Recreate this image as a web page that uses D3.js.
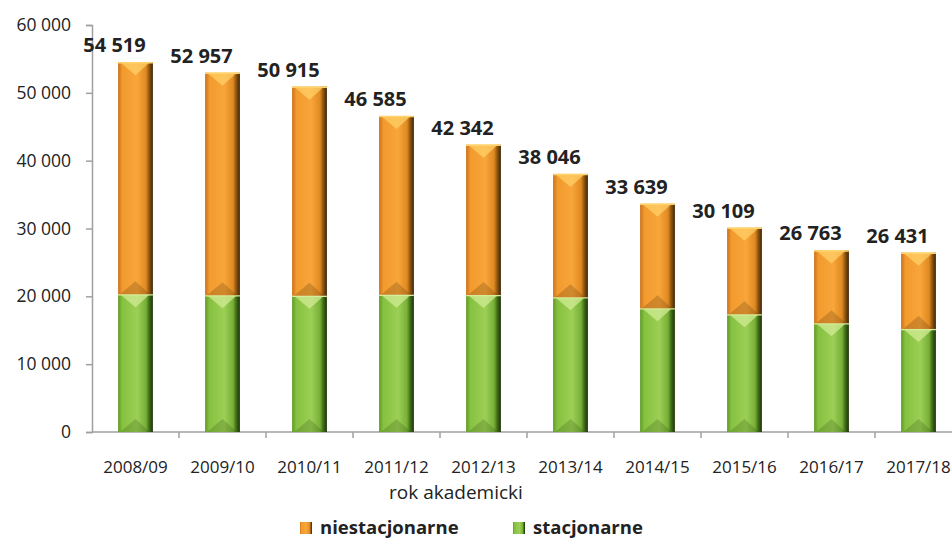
<!DOCTYPE html>
<html>
<head>
<meta charset="utf-8">
<script src="https://cdn.jsdelivr.net/npm/d3@7"></script>
<style>
  body { margin: 0; background: #fff; }
  svg { font-family: "Open Sans", sans-serif; }
</style>
</head>
<body>
<div id="chart"></div>
<script>
// chart data
var years = ['2008/09', '2009/10', '2010/11', '2011/12', '2012/13', '2013/14', '2014/15', '2015/16', '2016/17', '2017/18'];
var totals = [54519, 52957, 50915, 46585, 42342, 38046, 33639, 30109, 26763, 26431];
var stacjonarne = [20310, 20160, 20100, 20250, 20200, 19860, 18240, 17360, 16030, 15190];
var niestacjonarne = totals.map(function(t, i) { return t - stacjonarne[i]; });
var yTicks = [0, 10000, 20000, 30000, 40000, 50000, 60000];

var width = 952, height = 541;
var margin = {left: 92, top: 25, bottom: 109};
var plotW = 870;

var svg = d3.select('#chart').append('svg').attr('width', width).attr('height', height);
var defs = svg.append('defs');

// horizontal gradients for the bevelled look
function grad(id, stops) {
  var g = defs.append('linearGradient').attr('id', id).attr('x1', '0').attr('x2', '1').attr('y1', '0').attr('y2', '0');
  stops.forEach(function(s) { g.append('stop').attr('offset', s[0]).attr('stop-color', s[1]); });
}
grad('gOrange', [[0, '#c8701a'], [0.12, '#f29a2e'], [0.55, '#f8a53a'], [0.8, '#e08a22'], [0.9, '#8a5210'], [1, '#3c2408']]);
grad('gGreen', [[0, '#5e9a25'], [0.12, '#86c140'], [0.55, '#9ccf55'], [0.8, '#78b038'], [0.9, '#3e6a16'], [1, '#1c3208']]);

var x = d3.scaleBand().domain(years).range([margin.left, margin.left + plotW]).paddingInner(0.6).paddingOuter(0.3);
var y = d3.scaleLinear().domain([0, 60000]).range([height - margin.bottom, margin.top]);

var fmt = function(d) { return d3.format(',')(d).replace(/,/g, ' '); };

// y axis
var yAxis = svg.append('g').attr('transform', 'translate(' + margin.left + ',0)')
  .call(d3.axisLeft(y).tickValues(yTicks).tickSize(6).tickPadding(15).tickFormat(fmt));
yAxis.select('.domain').attr('stroke', '#a0a0a0').attr('stroke-width', 1.5);
yAxis.selectAll('.tick line').attr('stroke', '#a0a0a0').attr('stroke-width', 1.5);
yAxis.selectAll('.tick text').attr('fill', '#222').style('font-size', '17.5px').style('font-family', '"Open Sans", sans-serif');

// x axis with ticks between categories
var xAxisG = svg.append('g').attr('transform', 'translate(0,' + y(0) + ')');
xAxisG.append('line').attr('x1', margin.left).attr('x2', margin.left + plotW)
  .attr('stroke', '#a0a0a0').attr('stroke-width', 1.5);
xAxisG.selectAll('.xt').data(years.slice(1)).enter().append('line')
  .attr('x1', function(d) { return x(d) - x.step() * x.paddingInner() / 2; })
  .attr('x2', function(d) { return x(d) - x.step() * x.paddingInner() / 2; })
  .attr('y1', 0).attr('y2', 6).attr('stroke', '#a0a0a0').attr('stroke-width', 1.5);
xAxisG.selectAll('.xl').data(years).enter().append('text')
  .attr('x', function(d) { return x(d) + x.bandwidth() / 2; })
  .attr('y', 41).attr('text-anchor', 'middle').attr('fill', '#222').style('font-size', '17px')
  .text(function(d) { return d; });

svg.append('text').attr('x', 456).attr('y', 499).attr('text-anchor', 'middle')
  .attr('fill', '#222').style('font-size', '19px').text('rok akademicki');

// draws one bevelled segment
function segment(g, x0, w, yTop, yBot, fill, light, dark) {
  g.append('rect').attr('x', x0).attr('y', yTop).attr('width', w).attr('height', yBot - yTop).attr('fill', 'url(#' + fill + ')');
  var b = Math.min(13, (yBot - yTop) / 2);
  // top bevel
  g.append('polygon').attr('points', [[x0 + 2, yTop], [x0 + w - 3, yTop], [x0 + w / 2, yTop + b]].join(' '))
    .attr('fill', light).attr('opacity', 0.7);
  // bottom bevel
  g.append('polygon').attr('points', [[x0 + 2, yBot], [x0 + w - 3, yBot], [x0 + w / 2, yBot - b]].join(' '))
    .attr('fill', dark).attr('opacity', 0.22);
  g.append('line').attr('x1', x0).attr('x2', x0 + w).attr('y1', yTop + 0.5).attr('y2', yTop + 0.5)
    .attr('stroke', light).attr('stroke-width', 1.5);
}

var bars = svg.append('g');
years.forEach(function(yr, i) {
  var g = bars.append('g');
  segment(g, x(yr), x.bandwidth(), y(stacjonarne[i]), y(0), 'gGreen', '#d6ee9a', '#2a4a0e');
  segment(g, x(yr), x.bandwidth(), y(totals[i]), y(stacjonarne[i]), 'gOrange', '#ffd36a', '#4a2a06');
});

// total labels
svg.selectAll('.lbl').data(years).enter().append('text')
  .attr('x', function(d) { return x(d) + x.bandwidth() / 2 - 21; })
  .attr('y', function(d, i) { return y(totals[i]) - 10; })
  .attr('text-anchor', 'middle').attr('fill', '#222').style('font-size', '20px').style('font-weight', 'bold')
  .text(function(d, i) { return fmt(totals[i]); });

// legend
var legend = svg.append('g').attr('transform', 'translate(300,519)');
var items = [['niestacjonarne', 'gOrange', 0], ['stacjonarne', 'gGreen', 213]];
items.forEach(function(it) {
  legend.append('rect').attr('x', it[2]).attr('y', 3).attr('width', 12).attr('height', 12).attr('fill', 'url(#' + it[1] + ')');
  legend.append('text').attr('x', it[2] + 20).attr('y', 15).attr('fill', '#222')
    .style('font-size', '18.5px').style('font-weight', 'bold').text(it[0]);
});
</script>
</body>
</html>
